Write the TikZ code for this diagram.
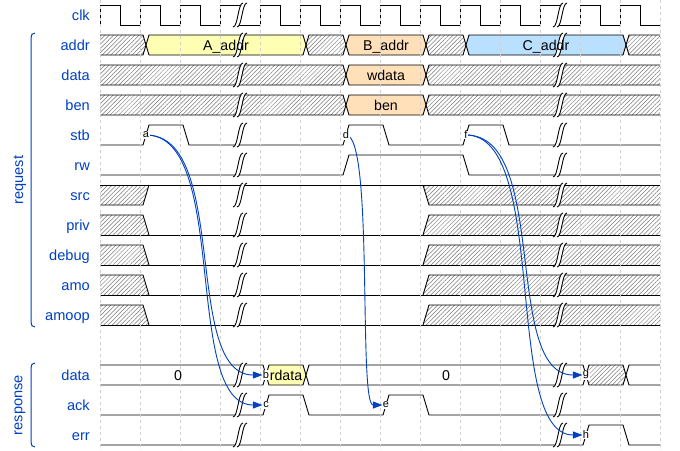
\documentclass[tikz,border=0pt]{standalone}
\usepackage{fontspec}
\setmainfont{Liberation Sans}
\usetikzlibrary{patterns.meta,arrows.meta,calc}
\definecolor{wdblue}{HTML}{0041C4}
\definecolor{wdyellow}{HTML}{FFFFB4}
\definecolor{wdorange}{HTML}{FFE0B9}
\definecolor{wdsky}{HTML}{B9E0FF}
\definecolor{hatchgray}{HTML}{7A7A7A}
\definecolor{gridgray}{HTML}{CFCFCF}
\tikzset{
  sig/.style={draw=black, line width=0.9pt, line join=miter},
  hatch/.style={pattern={Lines[angle=45,distance=3pt,line width=0.5pt]}, pattern color=hatchgray},
  lane/.style={font=\fontsize{14.6}{16}\selectfont, text=wdblue, anchor=base east, inner sep=0pt},
  grplbl/.style={font=\fontsize{14.6}{16}\selectfont, text=wdblue, rotate=90, inner sep=0pt},
  datalbl/.style={font=\fontsize{14.2}{16}\selectfont, anchor=base, inner sep=0pt},
  nodelbl/.style={font=\fontsize{11}{12}\selectfont, fill=white, inner sep=0.5pt},
  edge/.style={draw=wdblue, line width=0.9pt, -{Triangle[length=9.6pt,width=7pt]}, shorten >=3.5pt},
  gridln/.style={draw=gridgray, line width=0.5pt, dash pattern=on 3pt off 3pt},
  bracket/.style={draw=wdblue, line width=1pt},
}
% bus segment helpers
\newcommand\wvFirst[3]{%
  \path[#3] (100,#2) -- ({#1+3},#2) -- ({#1+6},{#2+10}) -- ({#1+3},{#2+20}) -- (100,{#2+20}) -- cycle;
  \draw[sig] (100,#2) -- ({#1+3},#2) -- ({#1+6},{#2+10}) -- ({#1+3},{#2+20}) -- (100,{#2+20});}
\newcommand\wvMid[4]{%
  \path[#4,sig] ({#1+6},{#3+10}) -- ({#1+9},#3) -- ({#2+3},#3) -- ({#2+6},{#3+10}) -- ({#2+3},{#3+20}) -- ({#1+9},{#3+20}) -- cycle;}
\newcommand\wvLast[3]{%
  \path[#3] ({#1+6},{#2+10}) -- ({#1+9},#2) -- (660,#2) -- (660,{#2+20}) -- ({#1+9},{#2+20}) -- cycle;
  \draw[sig] (660,#2) -- ({#1+9},#2) -- ({#1+6},{#2+10}) -- ({#1+9},{#2+20}) -- (660,{#2+20});}
\newcommand\wvXlowX[1]{%
  \path[hatch] (100,#1) -- (143,#1) -- (149,{#1+20}) -- (100,{#1+20}) -- cycle;
  \path[hatch] (423,{#1+20}) -- (429,#1) -- (660,#1) -- (660,{#1+20}) -- cycle;
  \draw[sig] (100,#1) -- (143,#1) -- (149,{#1+20});
  \draw[sig] (423,{#1+20}) -- (429,#1) -- (660,#1);
  \draw[sig] (100,{#1+20}) -- (660,{#1+20});}
\newcommand\wvGap[2]{%
  \begin{scope}[shift={(#1,#2)}]
  \fill[white] (7,-2) -- (3,-2) .. controls (-2,-2) and (-2,22) .. (-7,22) -- (-3,22) .. controls (2,22) and (2,-2) .. (7,-2) -- cycle;
  \draw[line width=0.9pt] (-7,22) .. controls (-2,22) and (-2,-2) .. (3,-2);
  \draw[line width=0.9pt] (-3,22) .. controls (2,22) and (2,-2) .. (7,-2);
  \end{scope}}
\begin{document}
\begin{tikzpicture}[x=1pt,y=-1pt]
\useasboundingbox (0,0) rectangle (680,450);
\fill[white] (0,0) rectangle (680,450);

% ---------- clk
\draw[sig] (100,25) -- (100,5) -- (120,5) -- (120,25) -- (140,25) -- (140,5) -- (160,5) -- (160,25) -- (180,25) -- (180,5) -- (200,5) -- (200,25) -- (220,25) -- (220,5) -- (241,5);
\draw[sig] (239,25) -- (260,25) -- (260,5) -- (280,5) -- (280,25) -- (300,25) -- (300,5) -- (320,5) -- (320,25) -- (340,25) -- (340,5) -- (360,5) -- (360,25) -- (380,25) -- (380,5) -- (400,5) -- (400,25) -- (420,25) -- (420,5) -- (440,5) -- (440,25) -- (460,25) -- (460,5) -- (480,5) -- (480,25) -- (500,25) -- (500,5) -- (520,5) -- (520,25) -- (540,25) -- (540,5) -- (561,5);
\draw[sig] (559,25) -- (580,25) -- (580,5) -- (600,5) -- (600,25) -- (620,25) -- (620,5) -- (640,5) -- (640,25) -- (660,25);

% ---------- addr
\wvFirst{140}{35}{hatch}
\wvMid{140}{300}{35}{fill=wdyellow}
\wvMid{300}{340}{35}{hatch}
\wvMid{340}{420}{35}{fill=wdorange}
\wvMid{420}{460}{35}{hatch}
\wvMid{460}{620}{35}{fill=wdsky}
\wvLast{620}{35}{hatch}
% ---------- data
\wvFirst{340}{65}{hatch}
\wvMid{340}{420}{65}{fill=wdorange}
\wvLast{420}{65}{hatch}
% ---------- ben
\wvFirst{340}{95}{hatch}
\wvMid{340}{420}{95}{fill=wdorange}
\wvLast{420}{95}{hatch}
% ---------- stb
\draw[sig] (100,145) -- (143,145) -- (149,125) -- (183,125) -- (189,145) -- (343,145) -- (349,125) -- (383,125) -- (389,145) -- (463,145) -- (469,125) -- (503,125) -- (509,145) -- (660,145);
% ---------- rw
\draw[sig] (100,175) -- (343,175) -- (349,155) -- (463,155) -- (469,175) -- (660,175);
% ---------- src
\path[hatch] (100,185) -- (149,185) -- (143,205) -- (100,205) -- cycle;
\path[hatch] (423,185) -- (660,185) -- (660,205) -- (429,205) -- cycle;
\draw[sig] (100,185) -- (660,185);
\draw[sig] (100,205) -- (143,205) -- (149,185);
\draw[sig] (423,185) -- (429,205) -- (660,205);
% ---------- priv, debug, amo, amoop
\wvXlowX{215}
\wvXlowX{245}
\wvXlowX{275}
\wvXlowX{305}
% ---------- response data
\wvFirst{260}{365}{fill=white}
\wvMid{260}{300}{365}{fill=wdyellow}
\wvMid{300}{580}{365}{fill=white}
\wvMid{580}{620}{365}{hatch}
\wvLast{620}{365}{fill=white}
% ---------- ack
\draw[sig] (100,415) -- (263,415) -- (269,395) -- (303,395) -- (309,415) -- (383,415) -- (389,395) -- (423,395) -- (429,415) -- (660,415);
% ---------- err
\draw[sig] (100,445) -- (583,445) -- (589,425) -- (623,425) -- (629,445) -- (660,445);

% ---------- grid
\foreach \k in {0,...,14} \draw[gridln] ({100+40*\k},0) -- ({100+40*\k},450);

% ---------- gaps
\foreach \t in {5,35,65,95,125,155,185,215,245,275,305,365,395,425} {\wvGap{240}{\t}\wvGap{560}{\t}}

% ---------- data labels
\node[datalbl] (tA) at (226,50) {A\_addr};
\node[datalbl] (tB) at (386,50) {B\_addr};
\node[datalbl] (tC) at (546,50) {C\_addr};
\node[datalbl] (tW) at (386,80) {wdata};
\node[datalbl] (tBen) at (386,110) {ben};
\node[datalbl] (tZ1) at (178,380) {0};
\node[datalbl] (tR) at (286,380) {rdata};
\node[datalbl] (tZ2) at (446,380) {0};

% ---------- lane labels
\node[lane] (lclk) at (90,20) {clk};
\node[lane] (laddr) at (90,50) {addr};
\node[lane] (ldata) at (90,80) {data};
\node[lane] (lben) at (90,110) {ben};
\node[lane] (lstb) at (90,140) {stb};
\node[lane] (lrw) at (90,170) {rw};
\node[lane] (lsrc) at (90,200) {src};
\node[lane] (lpriv) at (90,230) {priv};
\node[lane] (ldebug) at (90,260) {debug};
\node[lane] (lamo) at (90,290) {amo};
\node[lane] (lamoop) at (90,320) {amoop};
\node[lane] (lrdata) at (90,380) {data};
\node[lane] (lack) at (90,410) {ack};
\node[lane] (lerr) at (90,440) {err};

% ---------- groups
\node[grplbl] (greq) at (20,180) {request};
\node[grplbl] (gresp) at (20,405) {response};
\draw[bracket] (35,33) .. controls (32,33) and (31,35) .. (31,38) -- (31,322) .. controls (31,325) and (32,327) .. (35,327);
\draw[bracket] (35,363) .. controls (32,363) and (31,365) .. (31,368) -- (31,442) .. controls (31,445) and (32,447) .. (35,447);

% ---------- edge points
\coordinate (a) at (146,135);
\coordinate (b) at (266,375);
\coordinate (c) at (266,405);
\coordinate (d) at (346,135);
\coordinate (e) at (386,405);
\coordinate (f) at (466,135);
\coordinate (g) at (586,375);
\coordinate (h) at (586,435);

\draw[edge] (a) .. controls ($(a)+(84,0)$) and ($(b)+(-84,0)$) .. (b);
\draw[edge] (a) .. controls ($(a)+(84,0)$) and ($(c)+(-84,0)$) .. (c);
\draw[edge] (d) .. controls ($(d)+(28,0)$) and ($(e)+(-28,0)$) .. (e);
\draw[edge] (f) .. controls ($(f)+(84,0)$) and ($(g)+(-84,0)$) .. (g);
\draw[edge] (f) .. controls ($(f)+(84,0)$) and ($(h)+(-84,0)$) .. (h);

\node[nodelbl] (na) at (a) {a};
\node[nodelbl] (nb) at (b) {b};
\node[nodelbl] (nc) at (c) {c};
\node[nodelbl] (nd) at (d) {d};
\node[nodelbl] (ne) at (e) {e};
\node[nodelbl] (nf) at (f) {f};
\node[nodelbl] (ng) at (g) {g};
\node[nodelbl] (nh) at (h) {h};
\end{tikzpicture}
\end{document}
